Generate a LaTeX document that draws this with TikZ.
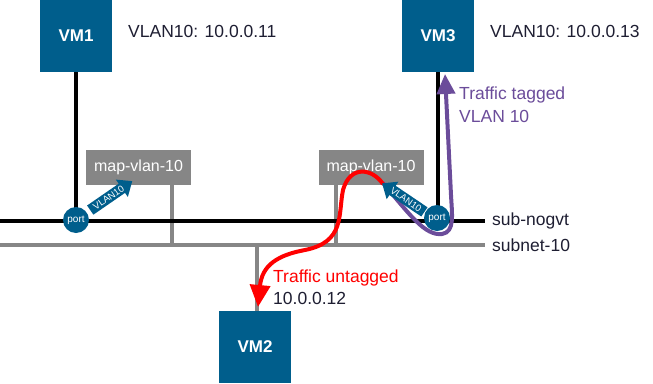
\documentclass[tikz,border=0pt]{standalone}
\usepackage{fontspec}
\setmainfont{Liberation Sans}
\usetikzlibrary{shapes.arrows,arrows.meta}
\definecolor{vmblue}{RGB}{0,94,140}
\definecolor{boxgray}{RGB}{134,134,134}
\definecolor{tagpurple}{RGB}{107,76,154}
\definecolor{txt}{RGB}{30,30,50}
\begin{document}
\begin{tikzpicture}[x=1pt,y=-1pt,
  vm/.style={fill=vmblue, minimum width=72pt, minimum height=72pt, inner sep=0pt, text=white, font=\bfseries\fontsize{17}{20}\selectfont},
  mapbox/.style={fill=boxgray, minimum width=105pt, minimum height=35pt, inner sep=0pt, text=white, font=\fontsize{16}{19}\selectfont},
  portc/.style={circle, fill=vmblue, minimum size=26pt, inner sep=0pt, text=white, font=\fontsize{10}{12}\selectfont},
  vlanarrow/.style={single arrow, fill=vmblue, text=white, font=\fontsize{9.5}{10}\selectfont, inner xsep=1pt, inner ysep=2pt, minimum height=51pt, single arrow head extend=5pt, single arrow tip angle=80},
  lbl/.style={text=txt, font=\fontsize{17.5}{21}\selectfont, inner sep=0pt},
  blk/.style={line width=4pt, black},
  gry/.style={line width=4.5pt, boxgray},
]
\useasboundingbox (0,0) rectangle (653,383);

% nodes
\node[vm] (vm1) at (76,36) {VM1};
\node[vm] (vm3) at (438,36) {VM3};
\node[vm] (vm2) at (255,347) {VM2};

\node[lbl, anchor=base west] (ip1) at (128,37) {VLAN10: 10.0.0.11};
\node[lbl, anchor=base west] (ip3) at (490,37) {VLAN10: 10.0.0.13};

% network lines
\coordinate (nogL) at (0,221);
\coordinate (nogR) at (485,221);
\coordinate (subL) at (0,245);
\coordinate (subR) at (485,245);
\node[lbl, anchor=west] (lnog) at (492,221) {sub-nogvt};
\node[lbl, anchor=west] (lsub) at (492,245) {subnet-10};

\node[mapbox] (map1) at (138.5,167.5) {map-vlan-10};
\node[mapbox] (map2) at (371,167) {map-vlan-10};

\draw[gry] (map1.south -| 172,0) -- (172,245);
\draw[gry] (map2.south -| 336,0) -- (336,245);
\draw[gry] (257,245) -- (vm2.north -| 257,0);

\draw[gry] (subL) -- (subR);
\draw[blk] (vm1.south) -- (76,221);
\draw[blk] (vm3.south) -- (438,221);
\draw[blk] (nogL) -- (nogR);

% traffic curves
\draw[tagpurple, line width=4pt, -{Triangle[length=20pt,width=18pt]}]
  (383,183) .. controls (410,215) and (425,236) .. (442,234)
  .. controls (455,232) and (452,215) .. (451,195)
  -- (445,74);

\draw[red, line width=4pt, -{Triangle[length=22pt,width=20pt]}]
  (383,184) .. controls (372,168) and (350,165) .. (343,190)
  .. controls (338,215) and (345,242) .. (305,250)
  .. controls (278,255) and (262,265) .. (258,307);

\node[portc] (port1) at (76,220) {port};
\node[portc] (port3) at (437,218) {port};

\node[vlanarrow, rotate=34.6] (a1) at (108.5,197.5) {VLAN10};
\node[vlanarrow, rotate=-34, shape border rotate=180] (a3) at (406,199.5) {VLAN10};

\node[lbl, text=tagpurple, anchor=base west] (tt) at (459,99) {Traffic tagged};
\node[lbl, text=tagpurple, anchor=base west] (tt2) at (459,122) {VLAN 10};
\node[lbl, text=red, anchor=base west] (tu) at (273,282) {Traffic untagged};
\node[lbl, anchor=base west] (ip2) at (273,304) {10.0.0.12};
\end{tikzpicture}
\end{document}
